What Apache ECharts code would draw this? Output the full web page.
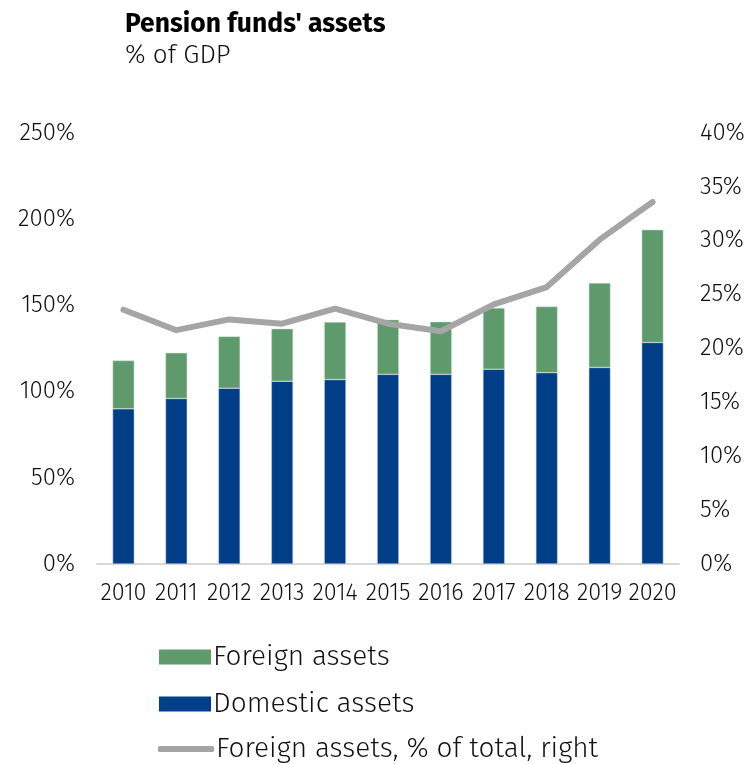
<!DOCTYPE html>
<html>
<head>
<meta charset="utf-8">
<script src="https://cdn.jsdelivr.net/npm/echarts@6/dist/echarts.min.js"></script>
<style>
  html, body { margin: 0; padding: 0; background: #fff; }
  #chart { width: 749px; height: 764px; }
</style>
</head>
<body>
<div id="chart"></div>
<script>
// Pension funds' assets, % of GDP
const years = ['2010', '2011', '2012', '2013', '2014', '2015', '2016', '2017', '2018', '2019', '2020'];
const domesticAssets = [90, 96, 102, 106, 107, 110, 110, 113, 111, 114, 128.5];
const foreignAssets = [28, 26.5, 30, 30.5, 33.3, 31.7, 30.5, 35.5, 38.3, 49, 65.4];
const foreignShare = [23.6, 21.7, 22.7, 22.3, 23.7, 22.3, 21.6, 24.1, 25.7, 30.1, 33.6];

const FONT = "'Fira Sans', Lato, 'Open Sans', sans-serif";
const GREEN = '#5e9a6c';
const BLUE = '#003f87';
const GREY = '#a5a5a5';

const chart = echarts.init(document.getElementById('chart'));

const pctLabel = v => v + '%';
const legendText = { fontFamily: FONT, fontSize: 28, fontWeight: 300, color: '#111', lineHeight: 30, padding: [0, 0, 0, -3] };

chart.setOption({
  animation: false,
  textStyle: { fontFamily: FONT },
  title: [
    {
      text: "Pension funds' assets",
      left: 120, top: 6,
      textStyle: { fontFamily: FONT, fontSize: 26.5, fontWeight: 'bold', color: '#000' }
    },
    {
      text: '% of GDP',
      left: 120, top: 38,
      textStyle: { fontFamily: FONT, fontSize: 26, fontWeight: 300, color: '#111' }
    }
  ],
  legend: [
    {
      left: 154, top: 637, orient: 'vertical',
      itemWidth: 52, itemHeight: 15,
      icon: 'rect',
      itemStyle: { borderWidth: 0 },
      data: ['Foreign assets'],
      textStyle: legendText
    },
    {
      left: 154, top: 684, orient: 'vertical',
      itemWidth: 52, itemHeight: 15,
      icon: 'rect',
      itemStyle: { borderWidth: 0 },
      data: ['Domestic assets'],
      textStyle: legendText
    },
    {
      left: 153, top: 729, orient: 'vertical',
      itemWidth: 56, itemHeight: 6,
      icon: 'roundRect',
      itemStyle: { color: GREY, borderWidth: 0 },
      data: ['Foreign assets, % of total, right'],
      textStyle: legendText
    }
  ],
  grid: { left: 97, right: 70, top: 133, bottom: 200, containLabel: false },
  xAxis: {
    type: 'category',
    data: years,
    axisTick: { show: false },
    axisLine: { lineStyle: { color: '#d9d9d9', width: 2 } },
    axisLabel: { interval: 0, hideOverlap: false, fontFamily: FONT, fontSize: 23.5, fontWeight: 300, color: '#111', margin: 17 }
  },
  yAxis: [
    {
      type: 'value', min: 0, max: 250, interval: 50,
      splitLine: { show: false },
      axisLine: { show: false }, axisTick: { show: false },
      axisLabel: { formatter: pctLabel, fontFamily: FONT, fontSize: 24, fontWeight: 300, color: '#111', margin: 22 }
    },
    {
      type: 'value', min: 0, max: 40, interval: 5,
      splitLine: { show: false },
      axisLine: { show: false }, axisTick: { show: false },
      axisLabel: { formatter: pctLabel, fontFamily: FONT, fontSize: 24, fontWeight: 300, color: '#111', margin: 21 }
    }
  ],
  series: [
    {
      name: 'Domestic assets',
      type: 'bar', stack: 'assets',
      data: domesticAssets,
      barWidth: '41%',
      itemStyle: { color: BLUE, borderColor: '#c8d4e4', borderWidth: 0.5 }
    },
    {
      name: 'Foreign assets',
      type: 'bar', stack: 'assets',
      data: foreignAssets,
      barWidth: '41%',
      itemStyle: { color: GREEN, borderColor: '#cfe3d3', borderWidth: 0.5 }
    },
    {
      name: 'Foreign assets, % of total, right',
      type: 'line', yAxisIndex: 1,
      data: foreignShare,
      symbol: 'none',
      lineStyle: { color: GREY, width: 6, cap: 'round', join: 'round' },
      itemStyle: { color: GREY },
      z: 5
    }
  ]
});
</script>
</body>
</html>
